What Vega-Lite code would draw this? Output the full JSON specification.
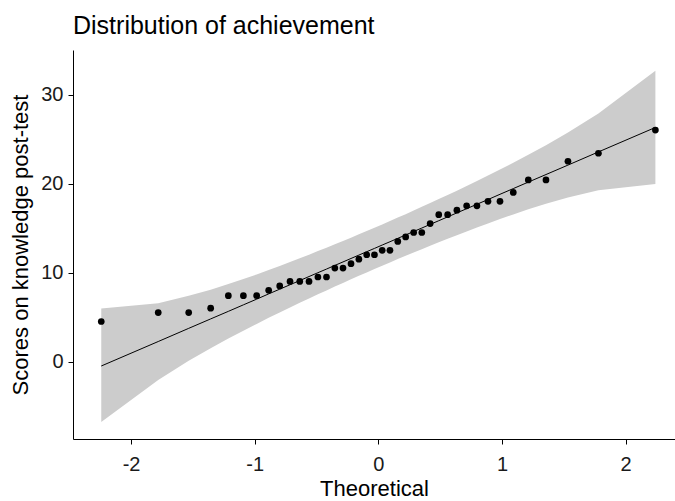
{
  "$schema": "https://vega.github.io/schema/vega-lite/v6.json",
  "width": 602,
  "height": 389,
  "autosize": "none",
  "padding": {"left": 73, "top": 50, "right": 0, "bottom": 62},
  "background": "white",
  "config": {
    "font": "Liberation Sans",
    "view": {"stroke": null},
    "axis": {
      "grid": false,
      "domainColor": "black",
      "domainWidth": 1,
      "tickColor": "black",
      "tickSize": 5,
      "labelColor": "#1a1a1a",
      "labelFontSize": 20,
      "titleFontSize": 22,
      "titleFontWeight": "normal",
      "titleColor": "black",
      "labelFont": "Liberation Sans",
      "titleFont": "Liberation Sans",
      "labelExpr": "datum.value + ''"
    }
  },
  "title": {
    "text": "Distribution of achievement",
    "anchor": "start",
    "frame": "group",
    "fontSize": 25,
    "fontWeight": "normal",
    "font": "Liberation Sans",
    "color": "black",
    "offset": 11
  },
  "data": {
    "values": [
      {"q": -2.2414, "score": 4.5, "line": -0.50, "lower": -6.80, "upper": 5.95},
      {"q": -1.7805, "score": 5.5, "line": 2.25, "lower": -2.06, "upper": 6.56},
      {"q": -1.5341, "score": 5.5, "line": 3.73, "lower": 0.08, "upper": 7.38},
      {"q": -1.3563, "score": 6.0, "line": 4.79, "lower": 1.50, "upper": 8.08},
      {"q": -1.2133, "score": 7.4, "line": 5.64, "lower": 2.58, "upper": 8.70},
      {"q": -1.0916, "score": 7.4, "line": 6.37, "lower": 3.47, "upper": 9.27},
      {"q": -0.9842, "score": 7.4, "line": 7.01, "lower": 4.23, "upper": 9.79},
      {"q": -0.8871, "score": 8.0, "line": 7.60, "lower": 4.91, "upper": 10.29},
      {"q": -0.7978, "score": 8.5, "line": 8.13, "lower": 5.52, "upper": 10.74},
      {"q": -0.7144, "score": 9.0, "line": 8.63, "lower": 6.08, "upper": 11.18},
      {"q": -0.6356, "score": 9.0, "line": 9.10, "lower": 6.60, "upper": 11.60},
      {"q": -0.5607, "score": 9.0, "line": 9.55, "lower": 7.09, "upper": 12.01},
      {"q": -0.4888, "score": 9.5, "line": 9.98, "lower": 7.55, "upper": 12.41},
      {"q": -0.4193, "score": 9.5, "line": 10.39, "lower": 7.99, "upper": 12.79},
      {"q": -0.3518, "score": 10.5, "line": 10.80, "lower": 8.42, "upper": 13.18},
      {"q": -0.2858, "score": 10.5, "line": 11.19, "lower": 8.83, "upper": 13.55},
      {"q": -0.2211, "score": 11.0, "line": 11.58, "lower": 9.24, "upper": 13.92},
      {"q": -0.1573, "score": 11.5, "line": 11.96, "lower": 9.63, "upper": 14.29},
      {"q": -0.0941, "score": 12.0, "line": 12.34, "lower": 10.01, "upper": 14.67},
      {"q": -0.0313, "score": 12.0, "line": 12.71, "lower": 10.39, "upper": 15.03},
      {"q": 0.0313, "score": 12.5, "line": 13.09, "lower": 10.77, "upper": 15.41},
      {"q": 0.0941, "score": 12.5, "line": 13.46, "lower": 11.13, "upper": 15.79},
      {"q": 0.1573, "score": 13.5, "line": 13.84, "lower": 11.51, "upper": 16.17},
      {"q": 0.2211, "score": 14.0, "line": 14.22, "lower": 11.88, "upper": 16.56},
      {"q": 0.2858, "score": 14.5, "line": 14.61, "lower": 12.25, "upper": 16.97},
      {"q": 0.3518, "score": 14.5, "line": 15.00, "lower": 12.62, "upper": 17.38},
      {"q": 0.4193, "score": 15.5, "line": 15.41, "lower": 13.01, "upper": 17.81},
      {"q": 0.4888, "score": 16.5, "line": 15.82, "lower": 13.39, "upper": 18.25},
      {"q": 0.5607, "score": 16.5, "line": 16.25, "lower": 13.79, "upper": 18.71},
      {"q": 0.6356, "score": 17.0, "line": 16.70, "lower": 14.20, "upper": 19.20},
      {"q": 0.7144, "score": 17.5, "line": 17.17, "lower": 14.62, "upper": 19.72},
      {"q": 0.7978, "score": 17.5, "line": 17.67, "lower": 15.06, "upper": 20.28},
      {"q": 0.8871, "score": 18.0, "line": 18.20, "lower": 15.51, "upper": 20.89},
      {"q": 0.9842, "score": 18.0, "line": 18.79, "lower": 16.01, "upper": 21.57},
      {"q": 1.0916, "score": 19.0, "line": 19.43, "lower": 16.53, "upper": 22.33},
      {"q": 1.2133, "score": 20.4, "line": 20.16, "lower": 17.10, "upper": 23.22},
      {"q": 1.3563, "score": 20.4, "line": 21.01, "lower": 17.72, "upper": 24.30},
      {"q": 1.5341, "score": 22.5, "line": 22.07, "lower": 18.42, "upper": 25.72},
      {"q": 1.7805, "score": 23.4, "line": 23.55, "lower": 19.24, "upper": 27.86},
      {"q": 2.2414, "score": 26.0, "line": 26.30, "lower": 19.94, "upper": 32.66}
    ]
  },
  "encoding": {
    "x": {
      "field": "q",
      "type": "quantitative",
      "scale": {"domain": [-2.47, 2.40], "nice": false, "zero": false},
      "axis": {"values": [-2, -1, 0, 1, 2], "title": "Theoretical", "labelPadding": 10, "titlePadding": 4}
    }
  },
  "layer": [
    {
      "mark": {"type": "area", "color": "#cccccc", "opacity": 1},
      "encoding": {
        "y": {
          "field": "lower",
          "type": "quantitative",
          "scale": {"domain": [-8.7, 35.0], "nice": false, "zero": false},
          "axis": {"values": [0, 10, 20, 30], "title": "Scores on knowledge post-test", "labelPadding": 5, "titlePadding": 8}
        },
        "y2": {"field": "upper"}
      }
    },
    {
      "mark": {"type": "line", "color": "black", "strokeWidth": 1},
      "encoding": {"y": {"field": "line", "type": "quantitative"}}
    },
    {
      "mark": {"type": "circle", "color": "black", "size": 45, "opacity": 1},
      "encoding": {"y": {"field": "score", "type": "quantitative"}}
    }
  ]
}
